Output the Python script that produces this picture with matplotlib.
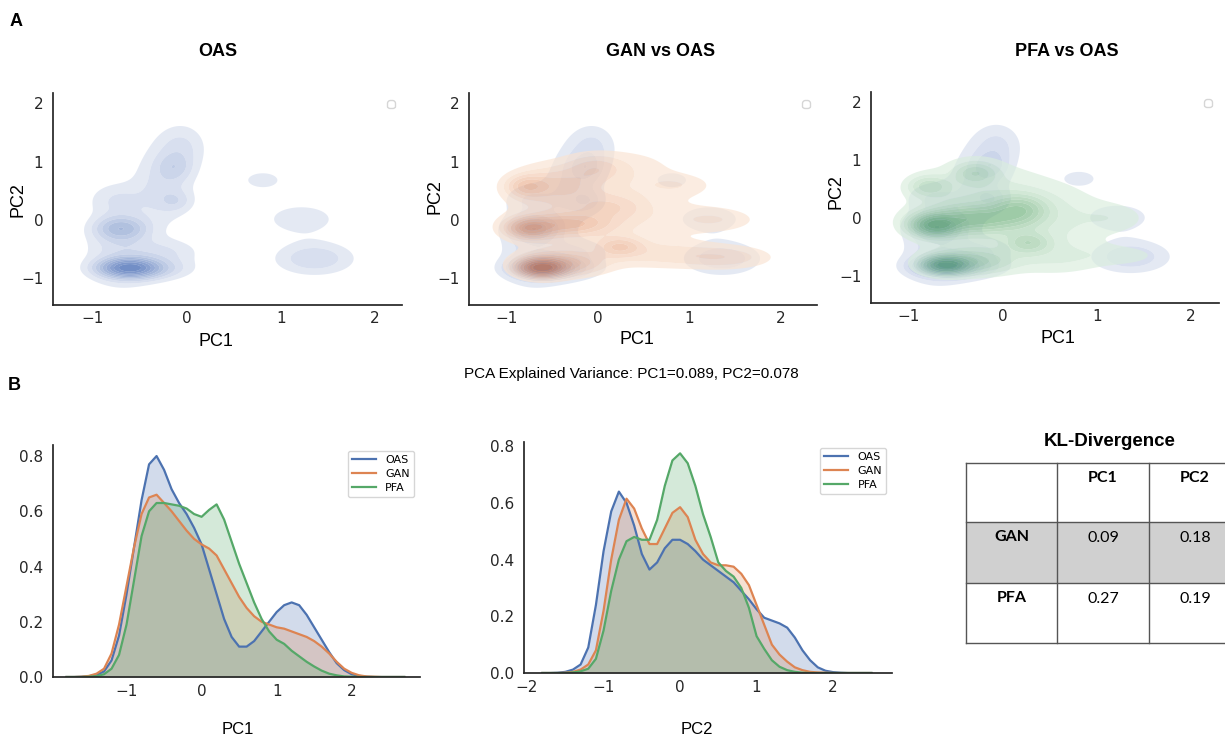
import numpy as np
import matplotlib
matplotlib.use("Agg")
import matplotlib.pyplot as plt
from matplotlib.colors import LinearSegmentedColormap
from matplotlib.patches import Rectangle

# ---------------- data ----------------
series_names = ["OAS", "GAN", "PFA"]
series_colors = ["#4C72B0", "#DD8452", "#55A868"]

# 1-D density curves (step 0.1)
pc1_grid = np.round(np.arange(-1.8, 2.75, 0.1), 1)
oas_pc1 = [0, 0, 0.001, 0.003, 0.008, 0.02, 0.06, 0.15, 0.30,
           0.47, 0.64, 0.77, 0.80, 0.75, 0.68, 0.63, 0.59, 0.54, 0.48,
           0.39, 0.30, 0.21, 0.145, 0.11, 0.11, 0.13, 0.165, 0.20, 0.235,
           0.26, 0.27, 0.26, 0.225, 0.18, 0.135, 0.09, 0.05, 0.025, 0.01,
           0.004, 0.001, 0, 0, 0, 0, 0]
gan_pc1 = [0, 0, 0.001, 0.004, 0.012, 0.03, 0.085, 0.19, 0.33,
           0.47, 0.59, 0.65, 0.66, 0.63, 0.60, 0.565, 0.53, 0.50, 0.48,
           0.465, 0.44, 0.39, 0.34, 0.29, 0.25, 0.22, 0.20, 0.19, 0.18,
           0.175, 0.165, 0.155, 0.145, 0.13, 0.11, 0.085, 0.055, 0.03, 0.015,
           0.006, 0.002, 0.001, 0, 0, 0, 0]
pfa_pc1 = [0, 0, 0, 0.001, 0.003, 0.01, 0.03, 0.08, 0.19,
           0.35, 0.51, 0.60, 0.63, 0.63, 0.625, 0.62, 0.61, 0.59, 0.58,
           0.605, 0.625, 0.57, 0.49, 0.41, 0.34, 0.27, 0.21, 0.165, 0.135,
           0.12, 0.095, 0.075, 0.055, 0.038, 0.023, 0.012, 0.006, 0.002, 0.001,
           0, 0, 0, 0, 0, 0, 0]

pc2_grid = np.round(np.arange(-1.8, 2.55, 0.1), 1)
oas_pc2 = [0, 0, 0.001, 0.004, 0.012, 0.03, 0.09, 0.24, 0.43,
           0.57, 0.64, 0.60, 0.52, 0.42, 0.365, 0.39, 0.44, 0.47, 0.47,
           0.455, 0.43, 0.40, 0.38, 0.36, 0.34, 0.32, 0.29, 0.26, 0.225,
           0.195, 0.185, 0.175, 0.16, 0.125, 0.08, 0.045, 0.02, 0.008, 0.003,
           0.001, 0, 0, 0, 0]
gan_pc2 = [0, 0, 0, 0.001, 0.004, 0.012, 0.03, 0.08, 0.22,
           0.40, 0.54, 0.615, 0.58, 0.51, 0.455, 0.455, 0.51, 0.565, 0.585,
           0.55, 0.47, 0.42, 0.39, 0.38, 0.38, 0.375, 0.35, 0.31, 0.24,
           0.17, 0.10, 0.065, 0.04, 0.02, 0.01, 0.004, 0.002, 0.001, 0,
           0, 0, 0, 0, 0]
pfa_pc2 = [0, 0, 0, 0, 0.002, 0.006, 0.015, 0.05, 0.15,
           0.29, 0.40, 0.465, 0.48, 0.47, 0.47, 0.54, 0.66, 0.75, 0.775,
           0.74, 0.66, 0.56, 0.48, 0.39, 0.36, 0.34, 0.30, 0.23, 0.13,
           0.085, 0.045, 0.022, 0.01, 0.004, 0.001, 0, 0, 0, 0,
           0, 0, 0, 0, 0]

# 2-D density blobs: centre x, centre y, spread x, spread y, height
oas_cx = [-0.70, -0.25, -0.05, -0.75, -0.20, -0.61, -0.45, -0.70, -0.13, -0.12, 0.81, 1.22, 1.36]
oas_cy = [-0.50, 0.60, 1.25, 0.35, -0.55, -0.83, -0.85, -0.15, 0.90, 0.32, 0.68, 0.01, -0.67]
oas_sx = [0.25, 0.22, 0.18, 0.20, 0.25, 0.18, 0.30, 0.17, 0.12, 0.12, 0.17, 0.30, 0.28]
oas_sy = [0.45, 0.45, 0.28, 0.20, 0.15, 0.10, 0.13, 0.13, 0.15, 0.12, 0.13, 0.21, 0.19]
oas_h = [0.15, 0.14, 0.12, 0.10, 0.10, 1.00, 0.25, 0.35, 0.12, 0.10, 0.09, 0.095, 0.18]

gan_cx = [-0.35, 0.50, 1.30, 1.40, 0.90, 0.70, 0.40, -0.62, -0.40, -0.75, -0.35, -0.77, -0.45, 0.24, -0.02, 0.13]
gan_cy = [0.10, 0.10, 0.00, -0.65, 0.60, -0.60, 0.90, -0.83, -0.75, -0.15, -0.08, 0.57, 0.60, -0.47, 0.89, 0.21]
gan_sx = [0.45, 0.50, 0.32, 0.35, 0.25, 0.40, 0.35, 0.15, 0.28, 0.16, 0.30, 0.14, 0.30, 0.16, 0.20, 0.25]
gan_sy = [0.60, 0.45, 0.15, 0.14, 0.13, 0.16, 0.25, 0.10, 0.13, 0.11, 0.12, 0.12, 0.20, 0.11, 0.15, 0.15]
gan_h = [0.10, 0.06, 0.08, 0.12, 0.06, 0.09, 0.05, 0.80, 0.30, 0.45, 0.30, 0.25, 0.15, 0.22, 0.12, 0.12]

pfa_cx = [-0.30, 0.50, 1.20, 1.30, 0.60, -0.72, -0.30, -0.61, -0.35, 0.17, -0.29, -0.79, 0.27]
pfa_cy = [0.15, 0.00, 0.00, -0.65, -0.70, -0.13, -0.02, -0.81, -0.75, 0.15, 0.78, 0.55, -0.43]
pfa_sx = [0.45, 0.45, 0.25, 0.30, 0.35, 0.16, 0.32, 0.15, 0.28, 0.18, 0.14, 0.14, 0.15]
pfa_sy = [0.55, 0.45, 0.18, 0.13, 0.20, 0.12, 0.14, 0.10, 0.14, 0.15, 0.12, 0.12, 0.12]
pfa_h = [0.12, 0.08, 0.05, 0.05, 0.06, 0.65, 0.45, 0.55, 0.25, 0.35, 0.18, 0.18, 0.22]

# KL-divergence table
kl_rows = ["GAN", "PFA"]
kl_cols = ["PC1", "PC2"]
kl_values = [["0.09", "0.18"], ["0.27", "0.19"]]

panel_titles = ["OAS", "GAN vs OAS", "PFA vs OAS"]
variance_text = "PCA Explained Variance: PC1=0.089, PC2=0.078"

# ---------------- style ----------------
W, H = 1225, 738
fig = plt.figure(figsize=(W / 100, H / 100), dpi=100)
ARIAL = "Liberation Sans"
INK = "#262626"


def add_ax(l, t, r, b):
    return fig.add_axes([l / W, 1 - b / H, (r - l) / W, (b - t) / H])


def style(ax, xpad=4, ypad=6):
    for s in ["top", "right"]:
        ax.spines[s].set_visible(False)
    for s in ["left", "bottom"]:
        ax.spines[s].set_color(INK)
        ax.spines[s].set_linewidth(1.25)
    ax.tick_params(axis="both", length=0, labelsize=11, colors=INK)
    ax.tick_params(axis="x", pad=xpad)
    ax.tick_params(axis="y", pad=ypad)


ALPHA = 0.65
cmaps = {
    "OAS": LinearSegmentedColormap.from_list("o", [(0.84, 0.87, 0.935), (0.15, 0.32, 0.66)]),
    "GAN": LinearSegmentedColormap.from_list("g", [(0.98, 0.89, 0.82), (0.85, 0.45, 0.25)]),
    "PFA": LinearSegmentedColormap.from_list("p", [(0.85, 0.93, 0.865), (0.30, 0.62, 0.36)]),
}
level_frac = [0.045, 0.09, 0.14, 0.20, 0.27, 0.35, 0.45, 0.56, 0.69, 0.84, 1.01]

gx, gy = np.meshgrid(np.linspace(-1.7, 2.6, 320), np.linspace(-1.6, 2.3, 320))


def density(cx, cy, sx, sy, h):
    z = np.zeros_like(gx)
    for a, b, s1, s2, w in zip(cx, cy, sx, sy, h):
        z += w * np.exp(-((gx - a) ** 2 / (2 * s1 ** 2) + (gy - b) ** 2 / (2 * s2 ** 2)))
    return z


def kde2d(ax, z, name):
    zmax = z.max()
    lv = [f * zmax for f in level_frac]
    cols = [cmaps[name](t) for t in np.linspace(0, 1, len(lv) - 1)]
    ax.contourf(gx, gy, z, levels=lv, colors=cols, alpha=ALPHA, antialiased=True)


z_oas = density(oas_cx, oas_cy, oas_sx, oas_sy, oas_h)
z_gan = density(gan_cx, gan_cy, gan_sx, gan_sy, gan_h)
z_pfa = density(pfa_cx, pfa_cy, pfa_sx, pfa_sy, pfa_h)

top_boxes = [(53, 93, 402, 305), (469, 93, 817, 305), (871, 92, 1219, 303)]
top_xlims = [(-1.42, 2.29), (-1.41, 2.40), (-1.40, 2.30)]
overlays = [None, ("GAN", z_gan), ("PFA", z_pfa)]
title_x = [218, 661, 1067]
xlabel_pos = [(216, 341), (637, 340), (1058, 338)]
ylabel_pos = [(18, 200), (435, 197), (836, 192)]

for i in range(3):
    ax = add_ax(*top_boxes[i])
    style(ax, xpad=4, ypad=7)
    kde2d(ax, z_oas, "OAS")
    if overlays[i] is not None:
        kde2d(ax, overlays[i][1], overlays[i][0])
    ax.set_xlim(*top_xlims[i])
    ax.set_ylim(-1.47, 2.18)
    ax.set_xticks([-1, 0, 1, 2])
    ax.set_yticks([-1, 0, 1, 2])
    ax.legend(handles=[], loc="upper right", fontsize=10, framealpha=0.8,
              edgecolor="#cccccc", borderpad=0.3)
    l, t, r, b = top_boxes[i]
    ax.set_xlabel("PC1", fontsize=13, family=ARIAL, color="black")
    ax.xaxis.set_label_coords((xlabel_pos[i][0] - l) / (r - l), (b - xlabel_pos[i][1]) / (b - t),
                              transform=ax.transAxes)
    ax.xaxis.label.set_va("center")
    ax.set_ylabel("PC2", fontsize=13, family=ARIAL, color="black")
    ax.yaxis.set_label_coords((ylabel_pos[i][0] - l) / (r - l), (b - ylabel_pos[i][1]) / (b - t),
                              transform=ax.transAxes)
    ax.yaxis.label.set_ha("center")
    ax.yaxis.label.set_va("center")
    fig.text(title_x[i] / W, 1 - 52 / H, panel_titles[i], ha="center", va="center",
             fontsize=13, fontweight="bold", family=ARIAL)

# ---------------- bottom density curves ----------------
bottom_boxes = [(53, 445, 420, 677), (524, 442, 892, 673)]
bottom_xlims = [(-1.98, 2.91), (-2.04, 2.77)]
bottom_ylims = [(0, 0.84), (0, 0.815)]
bottom_labels = ["PC1", "PC2"]
bottom_label_pos = [(238, 730), (697, 729)]
grids = [pc1_grid, pc2_grid]
curves = [[oas_pc1, gan_pc1, pfa_pc1], [oas_pc2, gan_pc2, pfa_pc2]]
bottom_xticks = [[-1, 0, 1, 2], [-2, -1, 0, 1, 2]]

for j in range(2):
    ax = add_ax(*bottom_boxes[j])
    style(ax, xpad=5, ypad=7)
    for name, col, yv in zip(series_names, series_colors, curves[j]):
        ax.fill_between(grids[j], yv, color=col, alpha=0.25, linewidth=0)
        ax.plot(grids[j], yv, color=col, lw=1.6, label=name)
    ax.set_xlim(*bottom_xlims[j])
    ax.set_ylim(*bottom_ylims[j])
    ax.set_xticks(bottom_xticks[j])
    ax.set_yticks([0.0, 0.2, 0.4, 0.6, 0.8])
    ax.set_yticklabels(["0.0", "0.2", "0.4", "0.6", "0.8"])
    ax.legend(loc="upper right", fontsize=8, frameon=True, edgecolor="#cccccc",
              handlelength=2.2, borderpad=0.4, labelspacing=0.35)
    l, t, r, b = bottom_boxes[j]
    ax.set_xlabel(bottom_labels[j], fontsize=12, family=ARIAL, color="black")
    ax.xaxis.set_label_coords((bottom_label_pos[j][0] - l) / (r - l), (b - bottom_label_pos[j][1]) / (b - t),
                              transform=ax.transAxes)
    ax.xaxis.label.set_va("center")

# ---------------- texts ----------------
fig.text(10 / W, 1 - 22 / H, "A", fontsize=13, fontweight="bold", family=ARIAL, va="center")
fig.text(8 / W, 1 - 385 / H, "B", fontsize=13, fontweight="bold", family=ARIAL, va="center")
fig.text(631 / W, 1 - 374 / H, variance_text, fontsize=11, family=ARIAL, ha="center", va="center")

# ---------------- KL table ----------------
tx = [966, 1057, 1149, 1241]
ty = [463, 522, 583, 643]
tax = fig.add_axes([0, 0, 1, 1], facecolor="none")
tax.set_xlim(0, W)
tax.set_ylim(H, 0)
tax.axis("off")
tax.add_patch(Rectangle((tx[0], ty[1]), tx[3] - tx[0], ty[2] - ty[1], facecolor="#d0d0d0",
                        edgecolor="none"))
for xv in tx:
    tax.plot([xv, xv], [ty[0], ty[-1]], color="#555555", lw=1)
for yv in ty:
    tax.plot([tx[0], tx[-1]], [yv, yv], color="#555555", lw=1)
TFONT = "Lato"
for c, name in enumerate(kl_cols):
    tax.text((tx[c + 1] + tx[c + 2]) / 2, ty[0] + 15, name, ha="center", va="center",
             fontsize=11.5, fontweight="bold", family=TFONT)
for r_, name in enumerate(kl_rows):
    tax.text((tx[0] + tx[1]) / 2, ty[r_ + 1] + 15, name, ha="center", va="center",
             fontsize=11.5, fontweight="bold", family=TFONT)
    for c in range(2):
        tax.text((tx[c + 1] + tx[c + 2]) / 2, ty[r_ + 1] + 16, kl_values[r_][c], ha="center",
                 va="center", fontsize=11.5, family=TFONT)
tax.text(1110, 441, "KL-Divergence", ha="center", va="center", fontsize=13.5,
         fontweight="bold", family=ARIAL)

fig.savefig("out.png", dpi=100)
